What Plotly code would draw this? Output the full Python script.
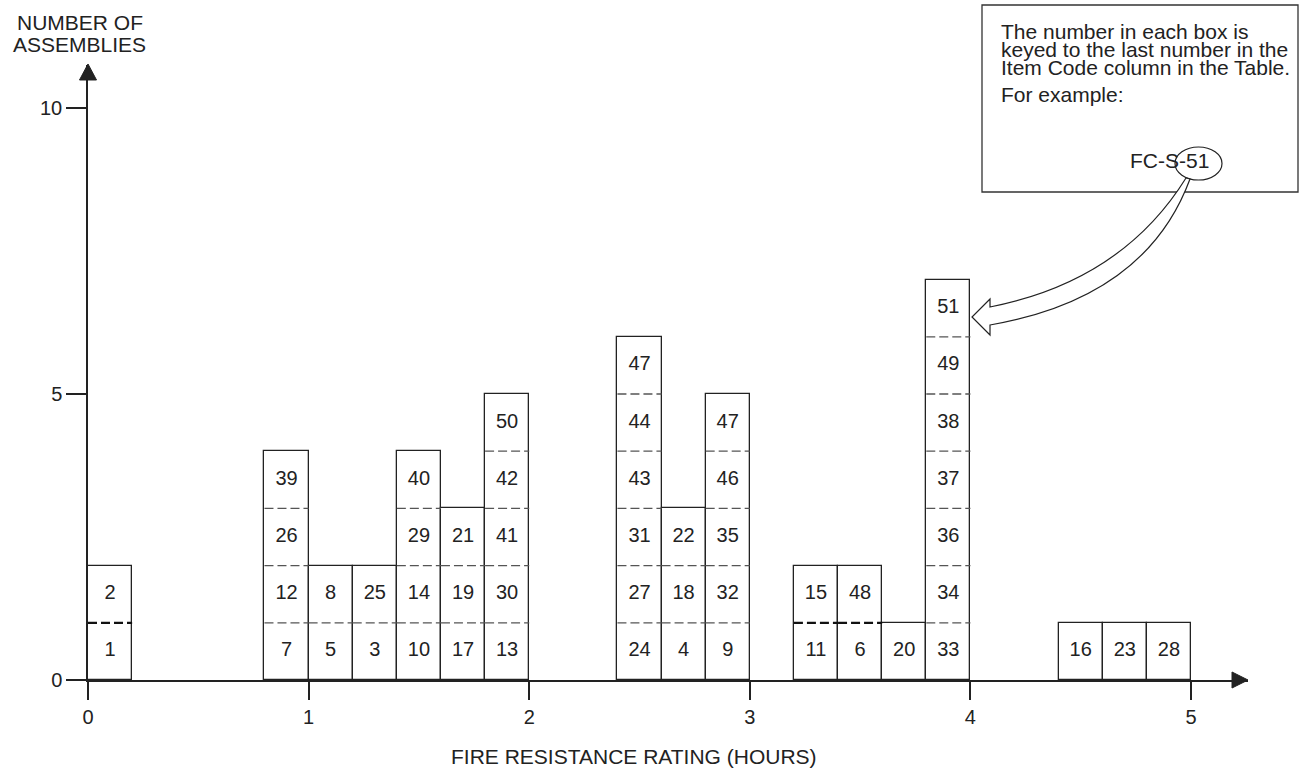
import plotly.graph_objects as go

# ---------------- data ----------------
bin_start = [0.0, 0.8, 1.0, 1.2, 1.4, 1.6, 1.8, 2.4, 2.6, 2.8, 3.2, 3.4, 3.6, 3.8, 4.4, 4.6, 4.8]
item_codes = [
    [1, 2],
    [7, 12, 26, 39],
    [5, 8],
    [3, 25],
    [10, 14, 29, 40],
    [17, 19, 21],
    [13, 30, 41, 42, 50],
    [24, 27, 31, 43, 44, 47],
    [4, 18, 22],
    [9, 32, 35, 46, 47],
    [11, 15],
    [6, 48],
    [20],
    [33, 34, 36, 37, 38, 49, 51],
    [16],
    [23],
    [28],
]
bold_divider_bins = [0.0, 3.2, 3.4]
bin_width = 0.2
x_ticks = [0, 1, 2, 3, 4, 5]
y_ticks = [0, 5, 10]
x_title = "FIRE RESISTANCE RATING (HOURS)"
y_title_lines = ["NUMBER OF", "ASSEMBLIES"]
note_lines = [
    "The number in each box is",
    "keyed to the last number in the",
    "Item Code column in the Table.",
    "For example:",
]
example_code = "FC-S-51"

# ---------------- geometry ----------------
W, H = 1312, 768
ML, MR, MT, MB = 88, 64, 65, 88
PW, PH = W - ML - MR, H - MT - MB
X_RANGE = [0, 5.2584]
Y_RANGE = [0, 10.752]
FONT = "Liberation Sans, Arial, Helvetica, sans-serif"
INK = "#222222"


def px(x):
    return (x - ML) / PW


def py(y):
    return (H - MB - y) / PH


def pt(x, y):
    return f"{px(x):.5f},{py(y):.5f}"


counts = [len(c) for c in item_codes]
centers = [s + bin_width / 2 for s in bin_start]

fig = go.Figure()

# stacked columns (outer outline)
fig.add_trace(go.Bar(
    x=centers, y=counts, base=[0] * len(counts), width=bin_width,
    marker=dict(color="white", line=dict(color=INK, width=1.3)),
    hoverinfo="skip", showlegend=False,
))

# labels in each box
tx, ty, tt = [], [], []
for c, codes in zip(centers, item_codes):
    for k, code in enumerate(codes):
        tx.append(c)
        ty.append(k + 0.5)
        tt.append(str(code))
fig.add_trace(go.Scatter(
    x=tx, y=ty, text=tt, mode="text",
    textfont=dict(size=20, color=INK, family=FONT),
    hoverinfo="skip", showlegend=False, cliponaxis=False,
))

shapes = []
# dashed dividers
for s, n in zip(bin_start, counts):
    bold = s in bold_divider_bins
    for k in range(1, n):
        shapes.append(dict(
            type="line", xref="x", yref="y",
            x0=s, x1=s + bin_width, y0=k, y1=k,
            line=dict(color="#111111" if bold else "#555555",
                      width=2.2 if bold else 1.3, dash="9px,4px"),
            layer="above",
        ))

# axis arrowheads
shapes.append(dict(type="path", xref="paper", yref="paper",
                   path=f"M{pt(88, 64)} L{pt(79.5, 80)} L{pt(96.5, 80)} Z",
                   fillcolor=INK, line=dict(color=INK, width=1)))
shapes.append(dict(type="path", xref="paper", yref="paper",
                   path=f"M{pt(1248, 680)} L{pt(1232, 672)} L{pt(1232, 688)} Z",
                   fillcolor=INK, line=dict(color=INK, width=1)))

# note box
shapes.append(dict(type="rect", xref="paper", yref="paper",
                   x0=px(982), x1=px(1298), y0=py(192), y1=py(5),
                   line=dict(color="#333333", width=1.3), fillcolor="rgba(0,0,0,0)"))
# ellipse around 51
shapes.append(dict(type="circle", xref="paper", yref="paper",
                   x0=px(1175), x1=px(1222), y0=py(180), y1=py(147),
                   line=dict(color=INK, width=1.2)))
# hollow curved arrow
arrow_path = (
    f"M{pt(1186, 178)} Q{pt(1122, 281)} {pt(990, 307)} "
    f"L{pt(990, 299)} L{pt(972, 317)} L{pt(990, 335)} L{pt(990, 325)} "
    f"Q{pt(1146, 298)} {pt(1190, 179)} Z"
)
shapes.append(dict(type="path", xref="paper", yref="paper", path=arrow_path,
                   fillcolor="white", line=dict(color=INK, width=1.2)))

annotations = []
for line, yc in zip(note_lines, [31.5, 49.5, 67.5, 94.5]):
    annotations.append(dict(text=line, xref="paper", yref="paper",
                            x=px(999), y=py(yc), xanchor="left", yanchor="middle",
                            showarrow=False, font=dict(size=21, color=INK, family=FONT)))
annotations.append(dict(text=example_code, xref="paper", yref="paper",
                        x=px(1128), y=py(160.5), xanchor="left", yanchor="middle",
                        showarrow=False, font=dict(size=21, color=INK, family=FONT)))
for line, yc in zip(y_title_lines, [22, 44.5]):
    annotations.append(dict(text=line, xref="paper", yref="paper",
                            x=px(79.5), y=py(yc), xanchor="center", yanchor="middle",
                            showarrow=False, font=dict(size=21, color=INK, family=FONT)))
annotations.append(dict(text=x_title, xref="paper", yref="paper",
                        x=px(634), y=py(756), xanchor="center", yanchor="middle",
                        showarrow=False, font=dict(size=21, color=INK, family=FONT)))

fig.update_layout(
    width=W, height=H,
    margin=dict(l=ML, r=MR, t=MT, b=MB, pad=0),
    paper_bgcolor="white", plot_bgcolor="white",
    font=dict(family=FONT, size=20, color=INK),
    showlegend=False,
    shapes=shapes, annotations=annotations,
    bargap=0,
    xaxis=dict(range=X_RANGE, tickvals=x_ticks, ticktext=[str(v) for v in x_ticks],
               showgrid=False, zeroline=False, showline=True, linecolor=INK, linewidth=1.5,
               ticks="outside", ticklen=18, tickwidth=1.5, tickcolor=INK,
               tickfont=dict(size=20, color=INK, family=FONT), fixedrange=True),
    yaxis=dict(range=Y_RANGE, tickvals=y_ticks, ticktext=[str(v) for v in y_ticks],
               showgrid=False, zeroline=False, showline=True, linecolor=INK, linewidth=1.5,
               ticks="outside", ticklen=20, tickwidth=1.5, tickcolor=INK,
               tickfont=dict(size=20, color=INK, family=FONT), fixedrange=True),
)

fig.write_html(
    "out.html",
    config={"displayModeBar": False},
    post_script="document.body.style.margin='0';document.body.style.overflow='hidden';",
)
